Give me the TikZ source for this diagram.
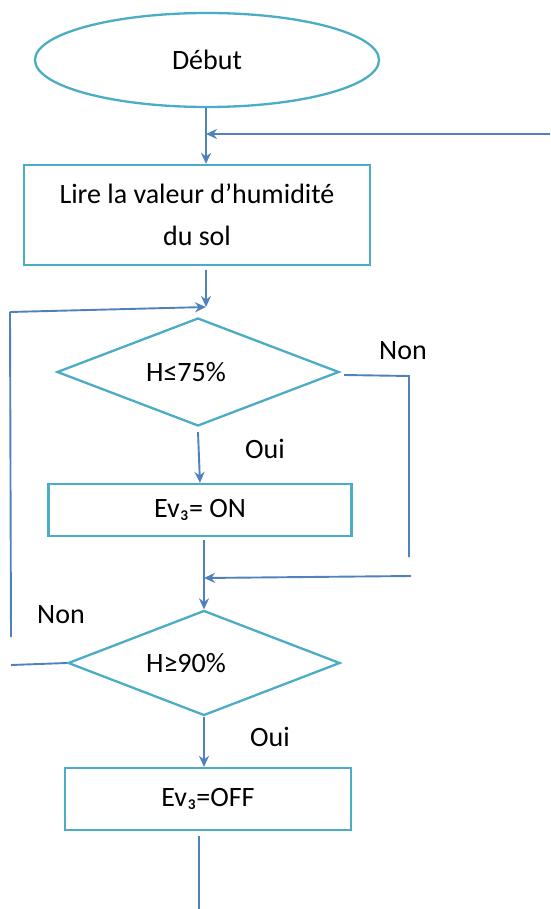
\documentclass[tikz,border=0pt]{standalone}
\usepackage{fontspec}
\setmainfont{Carlito}
\usetikzlibrary{shapes.geometric,arrows.meta}
\definecolor{shapec}{RGB}{75,172,198}
\definecolor{linec}{RGB}{79,129,189}
\tikzset{
  shp/.style={draw=shapec,line width=2.3pt,inner sep=0pt,font=\fontsize{28}{42}\selectfont},
  boxn/.style={shp,rectangle},
  ell/.style={shp,ellipse},
  dia/.style={shp,diamond,aspect=2.6},
  conn/.style={draw=linec,line width=1.9pt},
  arr/.style={conn,-{Stealth[length=11pt,width=10pt]}},
  lbl/.style={font=\fontsize{28}{32}\selectfont,inner sep=0pt}
}
\begin{document}
\begin{tikzpicture}[x=1pt,y=-1pt]
\useasboundingbox (0,0) rectangle (550,909);
\node[ell,minimum width=344pt,minimum height=94pt] (debut) at (207,60) {Début};
\node[boxn,minimum width=346pt,minimum height=100pt,align=center] (lire) at (197,215) {Lire la valeur d’humidité\\du sol};
\node[dia,minimum width=282pt,minimum height=108pt] (d1) at (198,372) {};
\node[lbl] (t1) at (186,372) {H≤75\%};
\node[boxn,minimum width=303pt,minimum height=52pt] (ev1) at (200,510) {Ev₃= ON};
\node[dia,minimum width=272pt,minimum height=105pt] (d2) at (204,663) {};
\node[lbl] (t2) at (186,663) {H≥90\%};
\node[boxn,minimum width=286pt,minimum height=62pt] (ev2) at (208,799) {Ev₃=OFF};
\node[lbl] (non1) at (403,351) {Non};
\node[lbl] (oui1) at (265,449) {Oui};
\node[lbl] (non2) at (61,615) {Non};
\node[lbl] (oui2) at (270,737) {Oui};
% coordinates
\coordinate (j1) at (206,134);
\coordinate (r1) at (550,134);
\coordinate (j2) at (206,307);
\coordinate (l2) at (10,312);
\coordinate (l1) at (11,637);
\coordinate (lw) at (11,665);
\coordinate (n1) at (409,376);
\coordinate (n2) at (409,557);
\coordinate (r2) at (411,576);
\coordinate (j3) at (204,578);
\coordinate (e) at (199,909);
% connectors
\draw[arr] (206,108) -- (lire.north -| j1);
\draw[arr] (r1) -- (j1);
\draw[arr] (lire.south -| j2) ++(0,4) -- (j2);
\draw[arr] (l2) -- (j2);
\draw[conn] (l1) -- (l2);
\draw[conn] ([xshift=4pt,yshift=-3pt]d1.east) -- (n1) -- (n2);
\draw[arr] ([yshift=-5pt]d1.south) -- (ev1.north);
\draw[arr] (ev1.south -| j3) ++(0,3) -- (d2.north);
\draw[arr] (r2) -- (j3);
\draw[conn] (d2.west) -- (lw);
\draw[arr] (d2.south) -- (ev2.north -| d2.south);
\draw[conn] ([yshift=-5pt]ev2.south -| e) -- (e);
\end{tikzpicture}
\end{document}
